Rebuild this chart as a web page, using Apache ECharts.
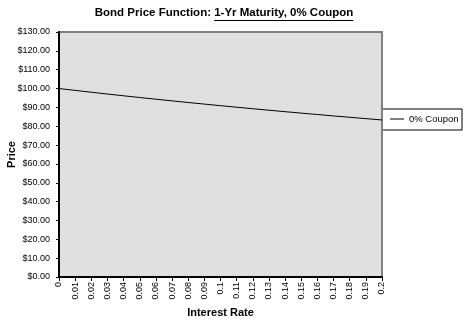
<!DOCTYPE html>
<html><head><meta charset="utf-8">
<script src="https://cdn.jsdelivr.net/npm/echarts@6/dist/echarts.min.js"></script>
<style>html,body{margin:0;padding:0;background:#fff}#c{width:474px;height:324px}</style>
</head><body><div id="c"></div>
<script>
const categories = ['0','0.01','0.02','0.03','0.04','0.05','0.06','0.07','0.08','0.09','0.1','0.11','0.12','0.13','0.14','0.15','0.16','0.17','0.18','0.19','0.2'];
const prices = [100.00,99.01,98.04,97.09,96.15,95.24,94.34,93.46,92.59,91.74,90.91,90.09,89.29,88.50,87.72,86.96,86.21,85.47,84.75,84.03,83.33];
const seriesName = '0% Coupon';
const titleA = 'Bond Price Function: ';
const titleB = '1-Yr Maturity, 0% Coupon';
const chart = echarts.init(document.getElementById('c'));
const F = 'Arial, "Liberation Sans", sans-serif';
const TFS = 11.5;
const ctx = document.createElement('canvas').getContext('2d');
ctx.font = 'bold ' + TFS + 'px ' + F;
const wA = ctx.measureText(titleA).width, wB = ctx.measureText(titleB).width;
const tCenter = 224, tStart = tCenter - (wA + wB) / 2;
const ulY = 20.5;
chart.setOption({
  animation:false,
  backgroundColor:'#ffffff',
  title:{
    text:'{a|' + titleA + '}{b|' + titleB + '}',
    left:tCenter, top:7, textAlign:'center', padding:0,
    textStyle:{rich:{
      a:{fontFamily:F,fontSize:TFS,fontWeight:'bold',color:'#000'},
      b:{fontFamily:F,fontSize:TFS,fontWeight:'bold',color:'#000'}
    }}
  },
  graphic:[{type:'line',shape:{x1:tStart+wA,y1:ulY,x2:tStart+wA+wB,y2:ulY},style:{stroke:'#000',lineWidth:1}},
    {type:'rect',shape:{x:382,y:109,width:80,height:21},style:{fill:'#fff',stroke:'#000',lineWidth:1},z:-1}],
  legend:{
    left:390, top:114, itemWidth:14, itemHeight:10, itemGap:5, padding:0,
    data:[{name:seriesName, icon:'path://M0,4.5L14,4.5L14,5.5L0,5.5Z'}],
    itemStyle:{color:'#000'},
    textStyle:{fontFamily:F,fontSize:9.5,color:'#000'}
  },
  grid:{left:59, top:32, width:323, height:245, outerBoundsMode:'none', containLabel:false, show:true, backgroundColor:'#e0e0e0', borderColor:'#808080', borderWidth:2},
  xAxis:{
    type:'category', data:categories, boundaryGap:false,
    name:'Interest Rate', nameLocation:'middle', nameGap:30, nameMoveOverlap:false,
    nameTextStyle:{fontFamily:F,fontSize:11,fontWeight:'bold',color:'#000'},
    axisLine:{lineStyle:{color:'#000',width:2}},
    axisTick:{show:true,length:4,lineStyle:{color:'#000'}},
    axisLabel:{rotate:90,fontFamily:F,fontSize:9,color:'#000',interval:0,margin:5},
    splitLine:{show:false}
  },
  yAxis:{
    type:'value', min:0, max:130, interval:10,
    name:'Price', nameLocation:'middle', nameGap:42, nameRotate:90, nameMoveOverlap:false,
    nameTextStyle:{fontFamily:F,fontSize:11,fontWeight:'bold',color:'#000'},
    axisLine:{show:true,lineStyle:{color:'#000',width:2}},
    axisTick:{show:true,length:3,lineStyle:{color:'#000'}},
    axisLabel:{fontFamily:F,fontSize:9,color:'#000',margin:9,formatter:v=>'$'+v.toFixed(2)},
    splitLine:{show:false}
  },
  series:[{name:seriesName,type:'line',data:prices,symbol:'none',lineStyle:{color:'#000',width:1},itemStyle:{color:'#000'}}]
});
</script></body></html>
